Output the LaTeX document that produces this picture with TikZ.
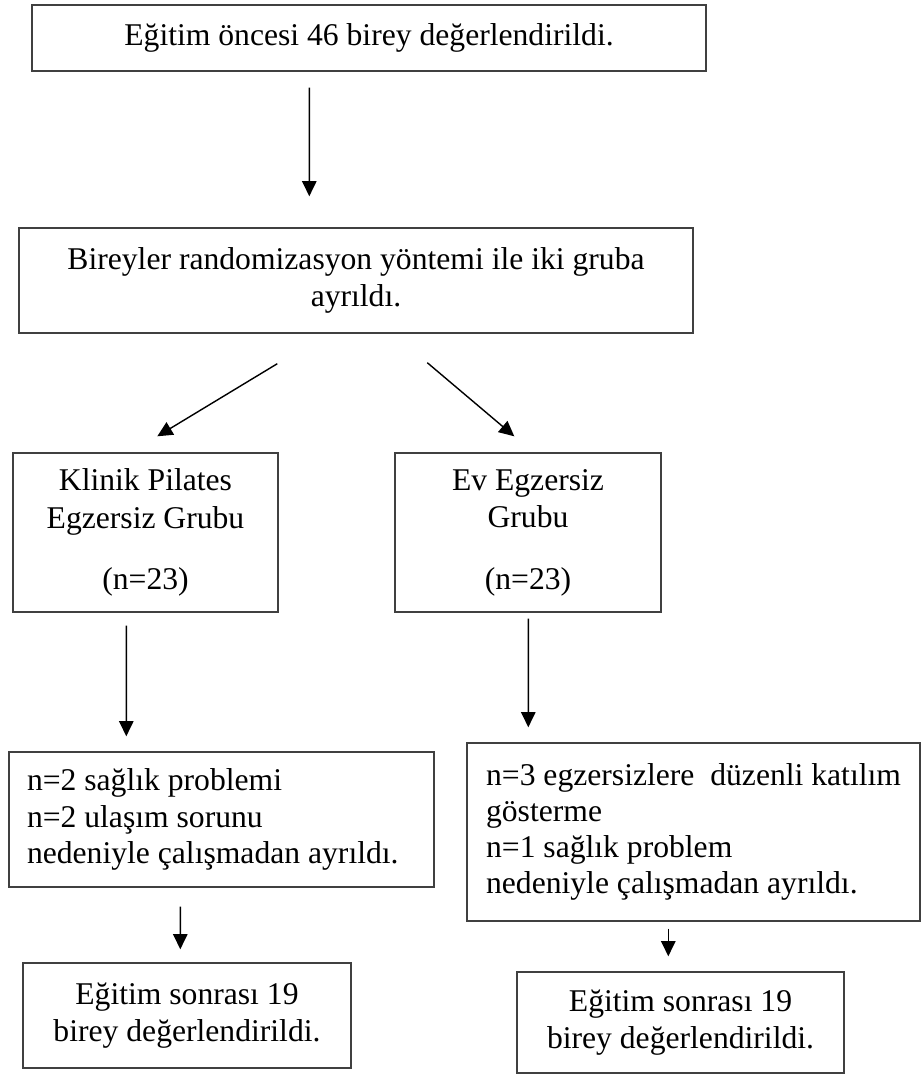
\documentclass[tikz,border=0pt]{standalone}
\usepackage{fontspec}
\setmainfont{Liberation Serif}
\usetikzlibrary{arrows.meta,positioning,calc}

\begin{document}
\begin{tikzpicture}[
    stage/.style={rectangle, draw=black!75, line width=1pt, align=center,
                  inner sep=0pt, font=\fontsize{22.5}{26.7}\selectfont},
    dropbox/.style={stage, align=flush left, inner xsep=0.45cm,
                    font=\fontsize{22.5}{25.8}\selectfont},
    arrow/.style={-{Triangle[length=0.38cm, width=0.36cm]}, line width=1pt}
]
\useasboundingbox (0,0) rectangle (23.025,-26.875);

% Before and randomisation
\node[stage, minimum width=16.85cm, minimum height=1.65cm] (pre) at (9.225,-0.95)
    {E\u{g}itim öncesi 46 birey değerlendirildi.};
\node[stage, minimum width=16.85cm, minimum height=2.625cm] (rand) at (8.9,-7.0125)
    {Bireyler randomizasyon yöntemi ile iki gruba\\ ayrıldı.};

% Groups
\node[stage, minimum width=6.625cm, minimum height=3.975cm] (klinik) at (3.6375,-13.3125)
    {Klinik Pilates\\ Egzersiz Grubu\\[0.6cm] (n=23)};
\node[stage, minimum width=6.65cm, minimum height=3.975cm] (ev) at (13.2,-13.3125)
    {Ev Egzersiz\\ Grubu\\[0.6cm] (n=23)};

% Drop-outs
\node[dropbox, text width=9.725cm, minimum height=3.375cm] (dropA) at (5.5375,-20.4875)
    {n=2 sağlık problemi\\ n=2 ulaşım sorunu\\ nedeniyle çalışmadan ayrıldı.};
\node[dropbox, align=left, minimum width=11.325cm, minimum height=4.45cm] (dropB) at (17.3375,-20.8)
    {n=3 egzersizlere~ düzenli katılım\\ gösterme\\ n=1 sağlık problem\\ nedeniyle çalışmadan ayrıldı.};

% After
\node[stage, minimum width=8.2cm, minimum height=2.625cm] (postA) at (4.675,-25.3875)
    {Eğitim sonrası 19\\ birey değerlendirildi.};
\node[stage, minimum width=8.175cm, minimum height=2.525cm] (postB) at (17.0125,-25.5625)
    {Eğitim sonrası 19\\ birey değerlendirildi.};

% Arrows
\draw[arrow] ([xshift=6.95cm, yshift=-0.4cm]pre.south west)
    -- ([xshift=7.275cm, yshift=0.775cm]rand.north west);
\draw[arrow] ([xshift=6.475cm, yshift=-0.75cm]rand.south west)
    -- ([xshift=3.625cm, yshift=0.4cm]klinik.north west);
\draw[arrow] ([xshift=10.225cm, yshift=-0.725cm]rand.south west)
    -- ([xshift=3.0cm, yshift=0.4cm]ev.north west);
\draw[arrow] ([xshift=2.85cm, yshift=-0.325cm]klinik.south west)
    -- ([xshift=2.95cm, yshift=0.375cm]dropA.north west);
\draw[arrow] ([xshift=3.35cm, yshift=-0.15cm]ev.south west)
    -- ([xshift=1.55cm, yshift=0.375cm]dropB.north west);
\draw[arrow] ([xshift=4.3cm, yshift=-0.475cm]dropA.south west)
    -- ([xshift=3.95cm, yshift=0.325cm]postA.north west);
\draw[arrow] ([xshift=5.05cm, yshift=-0.175cm]dropB.south west)
    -- ([xshift=3.8cm, yshift=0.375cm]postB.north west);

\end{tikzpicture}
\end{document}
